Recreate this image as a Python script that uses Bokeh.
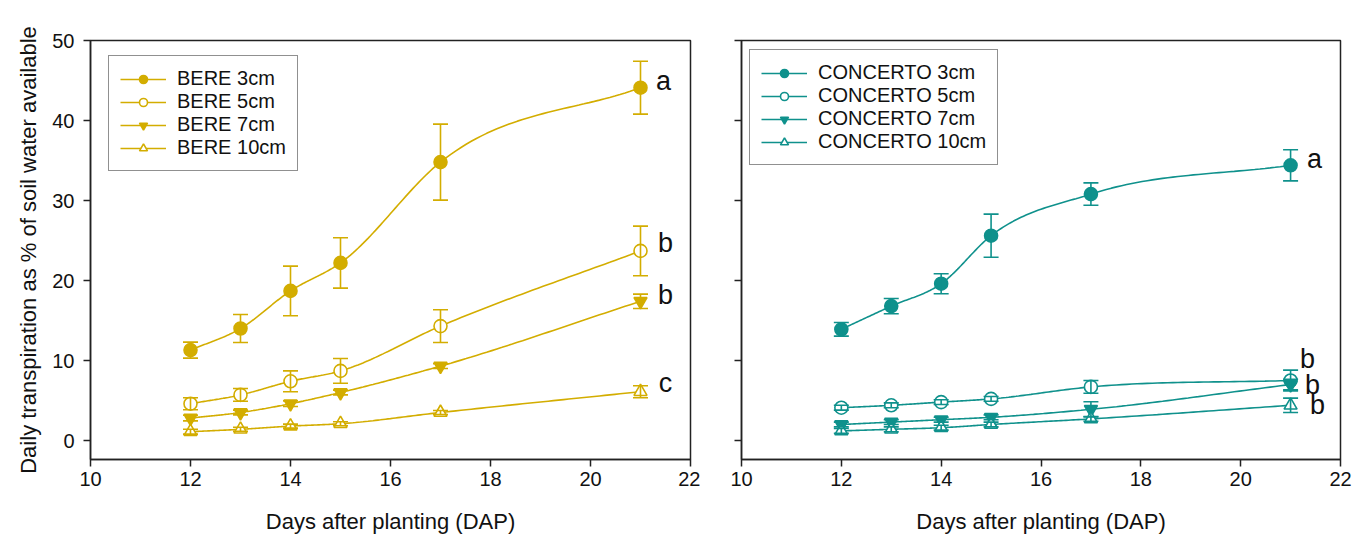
import numpy as np
from bokeh.plotting import figure
from bokeh.layouts import row
from bokeh.models import (ColumnDataSource, Whisker, TeeHead, Legend, LegendItem,
                          Range1d, FixedTicker)
from bokeh.core.properties import value
from bokeh.embed import file_html
from bokeh.resources import INLINE

# ---------------- data ----------------
dap = [12, 13, 14, 15, 17, 21]
depths = ["3cm", "5cm", "7cm", "10cm"]

bere_3 = [11.3, 14.0, 18.7, 22.2, 34.8, 44.1]
bere_3_se = [1.0, 1.75, 3.1, 3.15, 4.75, 3.3]
bere_5 = [4.6, 5.7, 7.4, 8.7, 14.3, 23.7]
bere_5_se = [0.75, 0.8, 1.3, 1.55, 2.05, 3.1]
bere_7 = [2.8, 3.5, 4.6, 6.0, 9.3, 17.4]
bere_7_se = [0.35, 0.3, 0.35, 0.3, 0.3, 0.9]
bere_10 = [1.1, 1.4, 1.8, 2.1, 3.5, 6.1]
bere_10_se = [0.3, 0.25, 0.25, 0.25, 0.25, 0.75]

conc_3 = [13.9, 16.8, 19.6, 25.6, 30.8, 34.4]
conc_3_se = [0.85, 0.95, 1.25, 2.7, 1.4, 1.95]
conc_5 = [4.1, 4.4, 4.8, 5.2, 6.7, 7.5]
conc_5_se = [0.3, 0.3, 0.3, 0.3, 0.8, 1.3]
conc_7 = [2.0, 2.3, 2.6, 2.9, 3.9, 7.0]
conc_7_se = [0.3, 0.3, 0.3, 0.3, 0.95, 0.65]
conc_10 = [1.2, 1.4, 1.6, 2.0, 2.7, 4.4]
conc_10_se = [0.3, 0.3, 0.3, 0.3, 0.3, 0.9]

bere_letters = ["a", "b", "b", "c"]
bere_letter_x = [21.46, 21.5, 21.5, 21.5]
bere_letter_y = [44.9, 24.75, 18.25, 7.2]
conc_letters = ["a", "b", "b", "b"]
conc_letter_x = [21.48, 21.34, 21.44, 21.54]
conc_letter_y = [35.25, 10.25, 7.0, 4.4]

x_ticks = [10, 12, 14, 16, 18, 20, 22]
y_ticks = [0, 10, 20, 30, 40, 50]

GOLD = "#D3AD00"
TEAL = "#0F918C"
FONT = "Liberation Sans"


def smooth_curve(x, y, n=40):
    """Cubic Hermite curve through the points (3-point tangents)."""
    x = np.asarray(x, float)
    y = np.asarray(y, float)
    k = len(x)
    h = np.diff(x)
    d = np.diff(y) / h
    m = np.empty(k)
    m[0] = d[0]
    m[-1] = d[-1]
    for i in range(1, k - 1):
        m[i] = (h[i] * d[i - 1] + h[i - 1] * d[i]) / (h[i - 1] + h[i])
    xs_all, ys_all = [], []
    for i in range(k - 1):
        t = np.linspace(0, 1, n, endpoint=(i == k - 2))
        h00 = 2 * t ** 3 - 3 * t ** 2 + 1
        h10 = t ** 3 - 2 * t ** 2 + t
        h01 = -2 * t ** 3 + 3 * t ** 2
        h11 = t ** 3 - t ** 2
        xs_all.append(x[i] + t * h[i])
        ys_all.append(h00 * y[i] + h10 * h[i] * m[i] + h01 * y[i + 1] + h11 * h[i] * m[i + 1])
    return np.concatenate(xs_all), np.concatenate(ys_all)


def make_panel(name, series, errs, color, letters, lx, ly, width, bl, br, show_ylabels, legend_off):
    p = figure(width=width, height=538, output_backend="svg", toolbar_location=None,
               x_range=Range1d(10, 22), y_range=Range1d(-2.375, 50),
               min_border_left=bl, min_border_right=br, min_border_top=40,
               min_border_bottom=79)
    p.grid.visible = False
    p.outline_line_color = "#222222"
    p.outline_line_width = 1.5
    p.background_fill_color = "white"
    p.border_fill_color = "white"

    for ax in (p.xaxis[0], p.yaxis[0]):
        ax.axis_line_color = "#222222"
        ax.axis_line_width = 1.5
        ax.major_tick_line_color = "#222222"
        ax.major_tick_line_width = 1.5
        ax.major_tick_out = 7
        ax.major_tick_in = 0
        ax.minor_tick_line_color = None
        ax.major_label_text_font = FONT
        ax.major_label_text_font_size = "20px"
        ax.major_label_text_color = "#111111"
        ax.axis_label_text_font = FONT
        ax.axis_label_text_font_style = "normal"
        ax.axis_label_text_font_size = "22px"
        ax.axis_label_text_color = "#111111"
    p.xaxis.ticker = FixedTicker(ticks=x_ticks)
    p.yaxis.ticker = FixedTicker(ticks=y_ticks)
    p.xaxis.axis_label = "Days after planting (DAP)"
    p.xaxis.axis_label_standoff = 20
    p.xaxis.major_label_standoff = 5
    if show_ylabels:
        p.yaxis.axis_label = "Daily transpiration as % of soil water available"
        p.yaxis.axis_label_standoff = 8
        p.yaxis.major_label_standoff = 9
    else:
        p.yaxis.major_label_overrides = {t: "" for t in y_ticks}

    markers = ["circle", "circle", "inverted_triangle", "triangle"]
    fills = [color, "white", color, "white"]
    items = []
    for d, ys, es, mk, fc in zip(depths, series, errs, markers, fills):
        ys_a = np.asarray(ys)
        es_a = np.asarray(es)
        src = ColumnDataSource(dict(x=dap, y=ys, upper=ys_a + es_a, lower=ys_a - es_a))
        sx, sy = smooth_curve(dap, ys)
        lr = p.line(sx, sy, line_color=color, line_width=1.6)
        wh = Whisker(base="x", upper="upper", lower="lower", source=src,
                     line_color=color, line_width=1.6, level="glyph",
                     upper_head=TeeHead(size=15, line_color=color, line_width=1.6),
                     lower_head=TeeHead(size=15, line_color=color, line_width=1.6))
        p.add_layout(wh)
        sr = p.scatter("x", "y", source=src, marker=mk, size=13, line_color=color,
                       line_width=1.6, fill_color=fc)
        items.append(LegendItem(label=f"{name} {d}", renderers=[lr, sr]))

    p.text(x=lx, y=ly, text=letters, text_font=value(FONT), text_font_size="27px",
           text_align="center", text_baseline="middle", text_color="#111111")

    leg = Legend(items=items, location=legend_off)
    leg.glyph_width = 46
    leg.glyph_height = 20
    leg.label_height = 20
    leg.spacing = 0
    leg.padding = 11
    leg.margin = 0
    leg.label_standoff = 11
    leg.label_text_font = FONT
    leg.label_text_font_size = "20px"
    leg.label_text_line_height = 1.0
    leg.label_text_color = "#111111"
    leg.border_line_color = "#222222"
    leg.border_line_width = 1.3
    leg.background_fill_color = "white"
    leg.background_fill_alpha = 1.0
    p.add_layout(leg, "center")
    return p


p1 = make_panel("BERE", [bere_3, bere_5, bere_7, bere_10],
                [bere_3_se, bere_5_se, bere_7_se, bere_10_se], GOLD,
                bere_letters, bere_letter_x, bere_letter_y,
                700, 90, 10, True, (18, 288))
p2 = make_panel("CONCERTO", [conc_3, conc_5, conc_7, conc_10],
                [conc_3_se, conc_5_se, conc_7_se, conc_10_se], TEAL,
                conc_letters, conc_letter_x, conc_letter_y,
                654, 41, 14, False, (8, 294))

layout = row(p1, p2, spacing=0)
open("out.html", "w").write(file_html(layout, INLINE))
